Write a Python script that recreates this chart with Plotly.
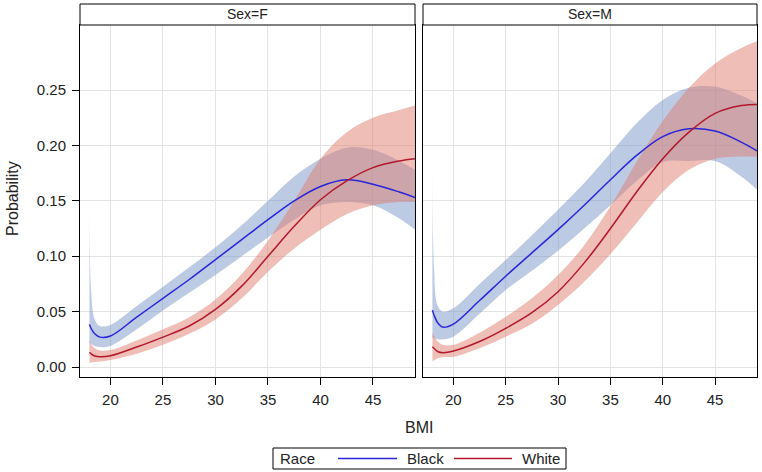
import plotly.graph_objects as go

W, H = 762, 472

bmi = [18, 18.15, 18.5, 19, 20, 22.5, 25, 27.5, 30, 32.5, 35, 37.5, 40, 42.5, 45, 47.5, 49]

# Sex=F
f_black = [0.0385, 0.035, 0.030, 0.027, 0.028, 0.045, 0.062, 0.079, 0.097, 0.115, 0.133, 0.150, 0.163, 0.169, 0.165, 0.158, 0.153]
f_black_hi = [0.143, 0.070, 0.043, 0.037, 0.038, 0.055, 0.0725, 0.090, 0.108, 0.128, 0.150, 0.172, 0.188, 0.198, 0.196, 0.186, 0.178]
f_black_lo = [0.022, 0.021, 0.019, 0.018, 0.019, 0.034, 0.051, 0.067, 0.083, 0.100, 0.117, 0.133, 0.146, 0.149, 0.146, 0.134, 0.124]
f_white = [0.0133, 0.012, 0.010, 0.0093, 0.0102, 0.018, 0.027, 0.037, 0.052, 0.073, 0.100, 0.127, 0.151, 0.168, 0.180, 0.186, 0.188]
f_white_hi = [0.024, 0.021, 0.017, 0.015, 0.0153, 0.024, 0.034, 0.045, 0.061, 0.084, 0.114, 0.150, 0.188, 0.212, 0.225, 0.232, 0.236]
f_white_lo = [0.004, 0.004, 0.0045, 0.005, 0.0063, 0.012, 0.020, 0.030, 0.043, 0.062, 0.086, 0.107, 0.124, 0.138, 0.146, 0.149, 0.149]

# Sex=M
m_black = [0.0514, 0.047, 0.040, 0.036, 0.0388, 0.060, 0.082, 0.103, 0.124, 0.146, 0.169, 0.191, 0.208, 0.215, 0.213, 0.203, 0.195]
m_black_hi = [0.184, 0.090, 0.055, 0.050, 0.053, 0.075, 0.0966, 0.119, 0.142, 0.166, 0.193, 0.220, 0.241, 0.252, 0.253, 0.245, 0.238]
m_black_lo = [0.027, 0.026, 0.025, 0.025, 0.0274, 0.048, 0.0695, 0.087, 0.105, 0.125, 0.146, 0.168, 0.185, 0.186, 0.186, 0.172, 0.160]
m_white = [0.0183, 0.017, 0.014, 0.0129, 0.0144, 0.023, 0.0349, 0.049, 0.068, 0.094, 0.125, 0.158, 0.188, 0.212, 0.229, 0.236, 0.237]
m_white_hi = [0.031, 0.028, 0.023, 0.020, 0.020, 0.031, 0.0454, 0.062, 0.083, 0.110, 0.145, 0.185, 0.222, 0.252, 0.274, 0.288, 0.294]
m_white_lo = [0.005, 0.006, 0.008, 0.009, 0.0093, 0.017, 0.0274, 0.039, 0.056, 0.077, 0.102, 0.130, 0.158, 0.178, 0.188, 0.190, 0.190]

panels = ["Sex=F", "Sex=M"]
races = ["Black", "White"]
line_colors = {"Black": "#2A25D9", "White": "#B2182B"}
band_colors = {"Black": "rgba(124,149,202,0.5)", "White": "rgba(222,126,111,0.5)"}

data = {
    ("Sex=F", "Black"): (f_black, f_black_lo, f_black_hi),
    ("Sex=F", "White"): (f_white, f_white_lo, f_white_hi),
    ("Sex=M", "Black"): (m_black, m_black_lo, m_black_hi),
    ("Sex=M", "White"): (m_white, m_white_lo, m_white_hi),
}

FONT = "Liberation Sans, Arial, sans-serif"

fig = go.Figure()

for p, panel in enumerate(panels):
    xa = "x" if p == 0 else "x2"
    ya = "y" if p == 0 else "y2"
    # confidence bands first, then the estimate lines on top
    for race in races:
        est, lo, hi = data[(panel, race)]
        fig.add_trace(go.Scatter(x=bmi, y=lo, xaxis=xa, yaxis=ya, mode="lines",
                                 line=dict(width=0, shape="spline"), hoverinfo="skip",
                                 showlegend=False))
        fig.add_trace(go.Scatter(x=bmi, y=hi, xaxis=xa, yaxis=ya, mode="lines",
                                 line=dict(width=0, shape="spline"), fill="tonexty",
                                 fillcolor=band_colors[race], hoverinfo="skip",
                                 showlegend=False))
    for race in races:
        est, lo, hi = data[(panel, race)]
        fig.add_trace(go.Scatter(x=bmi, y=est, xaxis=xa, yaxis=ya, mode="lines",
                                 name=race, line=dict(color=line_colors[race], width=1.5, shape="spline"),
                                 showlegend=False))

# panel geometry in pixels
left_px = [(80, 415), (423, 757)]
top_px, bottom_px, head_top_px = 25, 377, 4

def px_x(v):
    return v / W

def px_y(v):
    return 1 - v / H

axis_common = dict(
    showline=True, linecolor="black", linewidth=1, mirror=True,
    showgrid=True, gridcolor="#e3e3e3", gridwidth=1, zeroline=False,
    ticks="outside", ticklen=7, tickcolor="black",
    tickfont=dict(family=FONT, size=15, color="#222"),
)

xrange_ = [17.1, 49.0]
yrange_ = [-0.009, 0.3087]
xticks = [20, 25, 30, 35, 40, 45]
yticks = [0.00, 0.05, 0.10, 0.15, 0.20, 0.25]

fig.update_layout(
    width=W, height=H,
    margin=dict(l=0, r=0, t=0, b=0),
    paper_bgcolor="white", plot_bgcolor="white",
    showlegend=False,
    xaxis=dict(axis_common, domain=[px_x(left_px[0][0]), px_x(left_px[0][1])],
               range=xrange_, tickvals=xticks, anchor="y", ticklabelstandoff=2),
    xaxis2=dict(axis_common, domain=[px_x(left_px[1][0]), px_x(left_px[1][1])],
                range=xrange_, tickvals=xticks, anchor="y2", ticklabelstandoff=2),
    yaxis=dict(axis_common, domain=[px_y(bottom_px), px_y(top_px)],
               range=yrange_, tickvals=yticks, tickformat=".2f", anchor="x",
               ticklabelstandoff=3),
    yaxis2=dict(axis_common, domain=[px_y(bottom_px), px_y(top_px)],
                range=yrange_, tickvals=yticks, showticklabels=False, ticks="",
                anchor="x2"),
)

shapes = []
annotations = []

# panel headers
for (x0, x1), panel in zip(left_px, panels):
    shapes.append(dict(type="rect", xref="paper", yref="paper",
                       x0=px_x(x0), x1=px_x(x1), y0=px_y(top_px), y1=px_y(head_top_px),
                       line=dict(color="black", width=1), fillcolor="white"))
    annotations.append(dict(text=panel, xref="paper", yref="paper",
                            x=px_x((x0 + x1) / 2), y=px_y((top_px + head_top_px) / 2),
                            showarrow=False, xanchor="center", yanchor="middle",
                            font=dict(family=FONT, size=14, color="#222")))

# axis titles
annotations.append(dict(text="Probability", xref="paper", yref="paper",
                        x=px_x(12), y=px_y(199), textangle=-90, showarrow=False,
                        xanchor="center", yanchor="middle",
                        font=dict(family=FONT, size=16, color="#222")))
annotations.append(dict(text="BMI", xref="paper", yref="paper",
                        x=px_x(419), y=px_y(427), showarrow=False,
                        xanchor="center", yanchor="middle",
                        font=dict(family=FONT, size=16, color="#222")))

# legend box
leg_y = 458.5
shapes.append(dict(type="rect", xref="paper", yref="paper",
                   x0=px_x(273), x1=px_x(566), y0=px_y(469), y1=px_y(448),
                   line=dict(color="black", width=1), fillcolor="white"))
annotations.append(dict(text="Race", xref="paper", yref="paper", x=px_x(278), y=px_y(leg_y),
                        showarrow=False, xanchor="left", yanchor="middle",
                        font=dict(family=FONT, size=15, color="#222")))
for race, (lx0, lx1, tx) in zip(races, [(338, 397, 405), (454, 512, 520)]):
    shapes.append(dict(type="line", xref="paper", yref="paper",
                       x0=px_x(lx0), x1=px_x(lx1), y0=px_y(leg_y), y1=px_y(leg_y),
                       line=dict(color=line_colors[race], width=1.5)))
    annotations.append(dict(text=race, xref="paper", yref="paper", x=px_x(tx), y=px_y(leg_y),
                            showarrow=False, xanchor="left", yanchor="middle",
                            font=dict(family=FONT, size=15, color="#222")))

fig.update_layout(shapes=shapes, annotations=annotations)

fig.write_html("out.html", config={"displayModeBar": False},
               post_script="document.body.style.margin='0';document.body.style.overflow='hidden';")
